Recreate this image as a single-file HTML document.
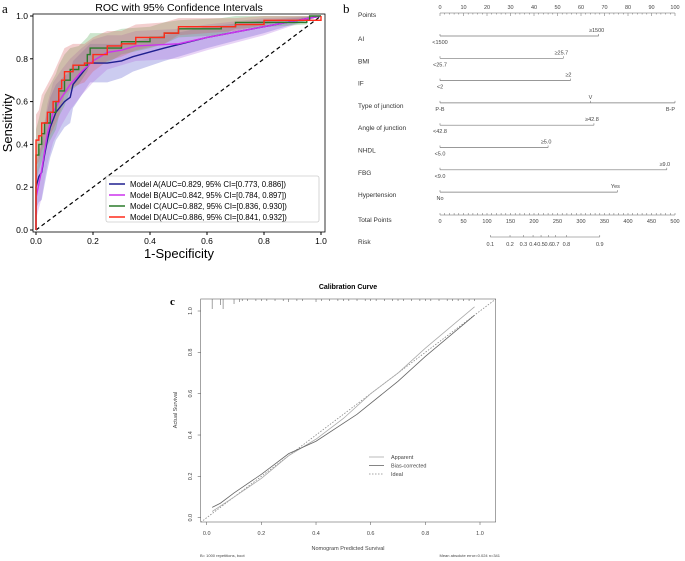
<!DOCTYPE html>
<html><head><meta charset="utf-8">
<style>
html,body{margin:0;padding:0;background:#fff;}
svg{display:block;font-family:"Liberation Sans",sans-serif;}
</style></head>
<body>
<svg id="fig" width="685" height="561" viewBox="0 0 685 561" xmlns="http://www.w3.org/2000/svg">
<rect width="685" height="561" fill="#fff"/>
<g id="pa"></g>
<g id="pb"></g>
<g id="pc"></g>
</svg>
<script>
// ---- ROC data ----
const fprA=[0,0,0.01,0.02,0.03,0.04,0.05,0.07,0.1,0.12,0.13,0.16,0.19,0.25,0.3,0.34,0.45,0.6,0.8,1];
const tprA=[0,0.2,0.25,0.27,0.35,0.42,0.48,0.55,0.6,0.62,0.68,0.73,0.78,0.78,0.79,0.81,0.85,0.9,0.95,1];
const fprB=[0,0,0.02,0.04,0.06,0.09,0.12,0.16,0.2,0.25,0.3,0.35,0.5,0.6,0.8,1];
const tprB=[0,0.15,0.28,0.45,0.55,0.62,0.68,0.74,0.79,0.83,0.84,0.86,0.87,0.9,0.95,1];
const fprC=[0,0,0.01,0.02,0.03,0.05,0.07,0.08,0.1,0.12,0.15,0.18,0.19,0.25,0.3,0.4,0.45,0.5,0.65,0.7,0.95,0.96,1];
const tprC=[0,0.35,0.4,0.45,0.5,0.55,0.6,0.65,0.7,0.75,0.77,0.82,0.85,0.85,0.88,0.9,0.92,0.94,0.95,0.97,0.98,1,1];
const fprD=[0,0,0.01,0.02,0.04,0.06,0.08,0.09,0.1,0.13,0.17,0.2,0.25,0.3,0.35,0.45,0.5,0.7,0.8,1];
const tprD=[0,0.42,0.44,0.5,0.55,0.6,0.66,0.7,0.74,0.77,0.78,0.82,0.86,0.87,0.9,0.92,0.95,0.96,0.98,1];
const bandA=[0.05,0.1,0.12,0.13,0.14,0.14,0.14,0.13,0.12,0.12,0.11,0.1,0.09,0.09,0.08,0.07,0.06,0.05,0.03,0];
const bandB=[0.05,0.1,0.13,0.14,0.14,0.13,0.12,0.11,0.1,0.08,0.07,0.07,0.07,0.06,0.04,0];
const bandC=[0.05,0.12,0.12,0.13,0.13,0.13,0.13,0.12,0.12,0.1,0.09,0.08,0.07,0.07,0.06,0.05,0.05,0.04,0.04,0.03,0.02,0,0];
const bandD=[0.05,0.12,0.12,0.13,0.13,0.13,0.13,0.12,0.11,0.1,0.09,0.08,0.07,0.06,0.06,0.05,0.04,0.03,0.02,0];
const rocTicks=[0,0.2,0.4,0.6,0.8,1.0];
const legendLabels=["Model A(AUC=0.829, 95% CI=[0.773, 0.886])","Model B(AUC=0.842, 95% CI=[0.784, 0.897])","Model C(AUC=0.882, 95% CI=[0.836, 0.930])","Model D(AUC=0.886, 95% CI=[0.841, 0.932])"];
// ---- Nomogram data ----
const nomoVars=["AI","BMI","IF","Type of junction","Angle of junction","NHDL","FBG","Hypertension"];
const nomoMax=[67.5,52.5,55.5,100,65.5,46,96.5,75.5];
const nomoLow=["<1500","<25.7","<2","P-B","<42.8","<5.0","<9.0","No"];
const nomoHigh=["\u22651500","\u226525.7","\u22652","B-P","\u226542.8","\u22655.0","\u22659.0","Yes"];
const riskLabels=[0.1,0.2,0.3,0.4,0.5,0.6,0.7,0.8,0.9];
const riskPoints=[107,149,177.5,198,215,230.5,246,269,340];
// ---- Calibration data ----
const appX=[0.02,0.1,0.2,0.3,0.4,0.5,0.6,0.7,0.8,0.98];
const appY=[0.03,0.1,0.19,0.3,0.38,0.48,0.6,0.7,0.82,1.02];
const bcX=[0.02,0.05,0.1,0.2,0.3,0.4,0.55,0.7,0.8,0.98];
const bcY=[0.05,0.07,0.12,0.21,0.31,0.37,0.5,0.66,0.78,0.98];
const rugX=[0.02,0.05,0.06,0.1,0.12,0.13,0.15,0.18,0.2,0.22,0.25,0.28,0.3,0.33,0.35,0.4,0.42,0.45,0.48,0.5,0.52,0.55,0.58,0.6,0.62,0.65,0.68,0.7,0.72,0.75,0.78,0.8,0.82,0.85,0.88,0.9,0.92,0.94,0.96,0.98];
const rugH=[10,6,10,5,3,2,2,2,2,2,2,2,3,2,2,3,2,2,2,2,2,2,2,2,2,2,2,2,2,2,2,2,2,2,2,2,2,2,2,2];
const calTicks=[0,0.2,0.4,0.6,0.8,1.0];

const NS="http://www.w3.org/2000/svg";
function mk(parent,tag,attrs,text){const e=document.createElementNS(NS,tag);for(const k in attrs)e.setAttribute(k,attrs[k]);if(text!==undefined)e.textContent=text;parent.appendChild(e);return e;}

// ===== Panel a =====
const pa=document.getElementById('pa');
const ax=v=>36+v*285, ay=v=>230-v*214;
let t=mk(pa,'text',{x:2,y:13,'font-family':'Liberation Serif',"font-size":13},'a');


t=mk(pa,'text',{x:179,y:11,'text-anchor':'middle',"font-size":10.5},'ROC with 95% Confidence Intervals');


const models=[[fprA,tprA,bandA,'#1f1f8f','#5555cc'],[fprB,tprB,bandB,'#cc33ee','#b36ee0'],[fprC,tprC,bandC,'#2a7a2a','#55aa55'],[fprD,tprD,bandD,'#ff2a1a','#d86060']];
const names=['model-a','model-b','model-c','model-d'];
models.forEach((m,i)=>{
  const [fx,ty,bw,c,bc]=m;
  let up=fx.map((x,j)=>ax(x)+','+ay(Math.min(1,ty[j]+bw[j])));
  let lo=fx.map((x,j)=>ax(x)+','+ay(Math.max(0,ty[j]-bw[j]))).reverse();
  const p=mk(pa,'polygon',{points:up.concat(lo).join(' '),fill:bc,'fill-opacity':0.3,stroke:'none'});
  
  
});
let d=mk(pa,'line',{x1:ax(0),y1:ay(0),x2:ax(1),y2:ay(1),stroke:'#000','stroke-dasharray':'4,3','stroke-width':1.2});


models.forEach((m,i)=>{
  const [fx,ty,,c]=m;
  let pts=[];
  fx.forEach((x,j)=>{ if(i>=2&&j>0) pts.push(ax(x)+','+ay(ty[j-1])); pts.push(ax(x)+','+ay(ty[j])); });
  const l=mk(pa,'polyline',{points:pts.join(' '),fill:'none',stroke:c,'stroke-width':1.4});
  
  
});
let bx=mk(pa,'rect',{x:33,y:14,width:292,height:218,fill:'none',stroke:'#000','stroke-width':0.8});


rocTicks.forEach(v=>{
  let a=mk(pa,'line',{x1:ax(v),y1:232,x2:ax(v),y2:235,stroke:'#000'});
  
  
  let b=mk(pa,'text',{x:ax(v),y:244,'text-anchor':'middle','font-size':8.5},v.toFixed(1));
  
  
  a=mk(pa,'line',{x1:30,y1:ay(v),x2:33,y2:ay(v),stroke:'#000'});
  
  
  b=mk(pa,'text',{x:28,y:ay(v)+3,'text-anchor':'end','font-size':8.5},v.toFixed(1));
  
  
});
t=mk(pa,'text',{x:179,y:258,'text-anchor':'middle','font-size':13},'1-Specificity');


t=mk(pa,'text',{x:0,y:0,'text-anchor':'middle','font-size':13,transform:'translate(12,123) rotate(-90)'},'Sensitivity');


let lg=mk(pa,'rect',{x:106,y:176,width:213,height:46,fill:'#fff','fill-opacity':0.85,stroke:'#ccc','stroke-width':0.8,rx:2});


legendLabels.forEach((s,i)=>{
  const y=184+i*11;
  let a=mk(pa,'line',{x1:109,y1:y,x2:125,y2:y,stroke:models[i][3],'stroke-width':1.5});
  
  
  let b=mk(pa,'text',{x:130,y:y+3,'font-size':7.8},s);
  
  
});

// ===== Panel b =====
const pb=document.getElementById('pb');
const bxp=v=>440+v*2.35, tpx=v=>440+v*0.47;
t=mk(pb,'text',{x:343,y:13,'font-family':'Liberation Serif',"font-size":13},'b');


const lab=(txt,y,n)=>{const e=mk(pb,'text',{x:358,y:y,'font-size':6.5,fill:'#333'},txt);};
lab('Points',17,'points-label');
let ax1=mk(pb,'line',{x1:440,y1:13,x2:675,y2:13,stroke:'#666','stroke-width':0.6});


for(let v=0;v<=100;v+=2){let a=mk(pb,'line',{x1:bxp(v),y1:13,x2:bxp(v),y2:v%10?14.5:16,stroke:'#666','stroke-width':0.5});}
for(let v=0;v<=100;v+=10){let b=mk(pb,'text',{x:bxp(v),y:9,'text-anchor':'middle','font-size':5.5,fill:'#444'},v);}
nomoVars.forEach((nm,i)=>{
  const y=36+i*22.3;
  lab(nm,y+5,'var-label');
  let l=mk(pb,'line',{x1:440,y1:y,x2:bxp(nomoMax[i]),y2:y,stroke:'#777','stroke-width':0.7});
  
  
  [0,nomoMax[i]].forEach(v=>{let a=mk(pb,'line',{x1:bxp(v),y1:y-2,x2:bxp(v),y2:y,stroke:'#777','stroke-width':0.6});});
  let a=mk(pb,'text',{x:440,y:y+8,'text-anchor':'middle','font-size':5.5,fill:'#444'},nomoLow[i]);
  
  
  let b=mk(pb,'text',{x:bxp(nomoMax[i])-(nomoMax[i]>=99?0:2),y:y-4,'text-anchor':nomoMax[i]>=99?'end':'middle','font-size':5.5,fill:'#444'},nomoHigh[i]);
  if(nomoMax[i]>=99){b.setAttribute('y',y+8);}
  
  
  if(i===3){let v=mk(pb,'text',{x:bxp(64),y:y-4,'text-anchor':'middle','font-size':5.5,fill:'#444'},'V');let tk=mk(pb,'line',{x1:bxp(64),y1:y-2,x2:bxp(64),y2:y,stroke:'#777','stroke-width':0.6});}
});
lab('Total Points',222,'total-points-label');
let ax2=mk(pb,'line',{x1:440,y1:215,x2:675,y2:215,stroke:'#666','stroke-width':0.6});


for(let v=0;v<=500;v+=10){let a=mk(pb,'line',{x1:tpx(v),y1:213,x2:tpx(v),y2:215,stroke:'#666','stroke-width':0.5});}
for(let v=0;v<=500;v+=50){let b=mk(pb,'text',{x:tpx(v),y:223,'text-anchor':'middle','font-size':5.5,fill:'#444'},v);}
lab('Risk',244,'risk-label');
let ax3=mk(pb,'line',{x1:tpx(riskPoints[0]),y1:237,x2:tpx(riskPoints[riskPoints.length-1]),y2:237,stroke:'#666','stroke-width':0.6});


riskLabels.forEach((r,i)=>{
  let a=mk(pb,'line',{x1:tpx(riskPoints[i]),y1:235,x2:tpx(riskPoints[i]),y2:237,stroke:'#666','stroke-width':0.5});
  
  
  let b=mk(pb,'text',{x:tpx(riskPoints[i]),y:246,'text-anchor':'middle','font-size':5.5,fill:'#444'},r);
  
  
});

// ===== Panel c =====
const pc=document.getElementById('pc');
const cx=v=>206.7+v*273.3, cy=v=>517.7-v*206.7;
t=mk(pc,'text',{x:170,y:305,'font-size':11,'font-weight':'bold','font-family':'Liberation Serif'},'c');


t=mk(pc,'text',{x:348,y:289,'text-anchor':'middle','font-size':7,'font-weight':'bold'},'Calibration Curve');


bx=mk(pc,'rect',{x:200.7,y:299,width:295,height:223,fill:'none',stroke:'#666','stroke-width':0.6});


rugX.forEach((v,i)=>{let r=mk(pc,'line',{x1:cx(v),y1:299,x2:cx(v),y2:299+rugH[i],stroke:'#666','stroke-width':0.6});});
let idl=mk(pc,'line',{x1:200.7,y1:cy((200.7-206.7)/273.3),x2:495.7,y2:cy((495.7-206.7)/273.3),stroke:'#888','stroke-width':0.8,'stroke-dasharray':'1.5,1.5'});


let ap=mk(pc,'polyline',{points:appX.map((x,j)=>cx(x)+','+cy(appY[j])).join(' '),fill:'none',stroke:'#aaa','stroke-width':0.8});


let bc=mk(pc,'polyline',{points:bcX.map((x,j)=>cx(x)+','+cy(bcY[j])).join(' '),fill:'none',stroke:'#666','stroke-width':0.8});


calTicks.forEach(v=>{
  let a=mk(pc,'line',{x1:cx(v),y1:522,x2:cx(v),y2:525,stroke:'#666','stroke-width':0.6});
  
  let b=mk(pc,'text',{x:cx(v),y:535,'text-anchor':'middle','font-size':5.5,fill:'#444'},v.toFixed(1));
  
  a=mk(pc,'line',{x1:197.7,y1:cy(v),x2:200.7,y2:cy(v),stroke:'#666','stroke-width':0.6});
  
  b=mk(pc,'text',{x:0,y:0,'text-anchor':'middle','font-size':5.5,fill:'#444',transform:`translate(192,${cy(v)}) rotate(-90)`},v.toFixed(1));
  
});
t=mk(pc,'text',{x:348,y:550,'text-anchor':'middle','font-size':5.5,fill:'#444'},'Nomogram Predicted Survival');

t=mk(pc,'text',{x:0,y:0,'text-anchor':'middle','font-size':5.5,fill:'#444',transform:'translate(177,410) rotate(-90)'},'Actual Survival');

t=mk(pc,'text',{x:200,y:557,'font-size':4,fill:'#444'},'B= 1000 repetitions, boot');

t=mk(pc,'text',{x:500,y:557,'text-anchor':'end','font-size':4,fill:'#444'},'Mean absolute error=0.024 n=341');

[['Apparent','#aaa',''],['Bias-corrected','#666',''],['Ideal','#888','1.5,1.5']].forEach((e,i)=>{
  const y=457+i*8.5;
  let a=mk(pc,'line',{x1:369,y1:y,x2:384,y2:y,stroke:e[1],'stroke-width':0.8,'stroke-dasharray':e[2]});
  
  let b=mk(pc,'text',{x:391,y:y+2,'font-size':5.5,fill:'#444'},e[0]);
  
});
</script>
</body></html>
